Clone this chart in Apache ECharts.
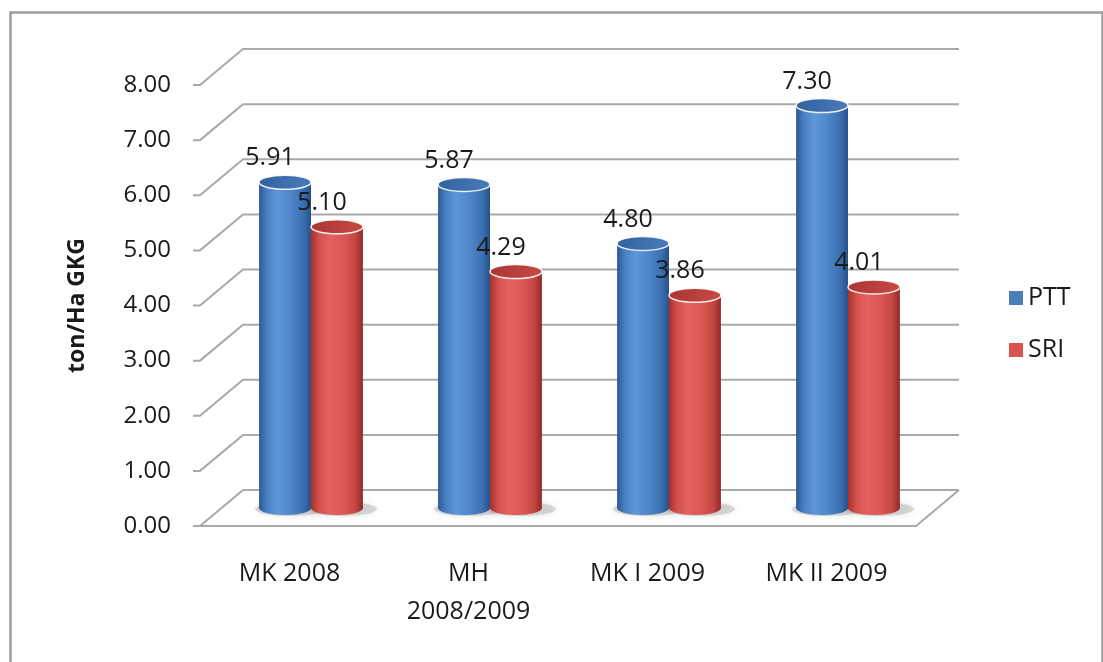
<!DOCTYPE html>
<html><head><meta charset="utf-8">
<script src="https://cdn.jsdelivr.net/npm/echarts@6/dist/echarts.min.js"></script>
<style>html,body{margin:0;padding:0;background:#fff}#c{width:1103px;height:662px}</style>
</head><body><div id="c"></div>
<script>
const categories = ['MK 2008', 'MH\n2008/2009', 'MK I 2009', 'MK II 2009'];
const pttValues = [5.91, 5.87, 4.80, 7.30];
const sriValues = [5.10, 4.29, 3.86, 4.01];
const yTicks = [0, 1, 2, 3, 4, 5, 6, 7, 8];
const seriesNames = ['PTT', 'SRI'];

const DEPTH = [43, -36];
const FONT = '"Open Sans", "Noto Sans", sans-serif';
const TEXT = '#1a1a1a';
const GRID_COLOR = '#a9a9a9';
const palettes = [
  { base: '#4a7ebb', topA: '#31609d', topB: '#4a7cbc',
    body: ['#2b5891', '#4a80c3', '#5e97d7', '#4f87ca', '#3b70b1', '#28508a'] },
  { base: '#d9534f', topA: '#a83532', topB: '#c94a46',
    body: ['#a5302d', '#d24f4b', '#e4625e', '#dc5a56', '#c64643', '#922927'] }
];

function cylinderRender(si) {
  return function (params, api) {
    const cat = api.value(0), val = api.value(1);
    const catW = api.size([1, 0])[0];
    const barW = catW * 0.29;
    const base = api.coord([cat, 0]);
    const topP = api.coord([cat, val]);
    const cx = base[0] + DEPTH[0] / 2 + (si === 0 ? -barW / 2 : barW / 2);
    const yb = base[1] + DEPTH[1] / 2;
    const yt = topP[1] + DEPTH[1] / 2;
    const rx = barW / 2, ry = 7;
    const p = palettes[si];
    const bodyFill = {
      type: 'linear', x: 0, y: 0, x2: 1, y2: 0,
      colorStops: [
        { offset: 0, color: p.body[0] }, { offset: 0.15, color: p.body[1] },
        { offset: 0.35, color: p.body[2] }, { offset: 0.6, color: p.body[3] },
        { offset: 0.85, color: p.body[4] }, { offset: 1, color: p.body[5] }
      ]
    };
    return {
      type: 'group',
      children: [
        { type: 'ellipse', shape: { cx: cx + 5, cy: yb + 1, rx: rx + 9, ry: ry },
          style: { fill: 'rgba(170,170,170,0.4)', shadowBlur: 6, shadowColor: 'rgba(130,130,130,0.5)' }, z2: 1 },
        { type: 'ellipse', shape: { cx: cx, cy: yb, rx: rx, ry: ry }, style: { fill: bodyFill }, z2: 2 },
        { type: 'rect', shape: { x: cx - rx, y: yt, width: barW, height: yb - yt }, style: { fill: bodyFill }, z2: 3 },
        { type: 'ellipse', shape: { cx: cx, cy: yt, rx: rx, ry: ry },
          style: { fill: { type: 'linear', x: 0, y: 0, x2: 1, y2: 1,
            colorStops: [{ offset: 0, color: p.topA }, { offset: 1, color: p.topB }] },
            stroke: 'rgba(255,255,255,0.9)', lineWidth: 1.5 }, z2: 4 },
        { type: 'text', z2: 50,
          style: { text: val.toFixed(2), x: cx - 15, y: yt - 24, align: 'center', verticalAlign: 'middle',
            fill: TEXT, fontSize: 25, fontFamily: FONT } }
      ]
    };
  };
}

function wallRender(params, api) {
  const v = api.value(1);
  const cs = params.coordSys;
  const L = cs.x, R = cs.x + cs.width;
  const y = api.coord([0, v])[1];
  const style = { stroke: GRID_COLOR, lineWidth: 2, fill: 'none' };
  const children = [
    { type: 'polyline', shape: { points: [[L - 7, y], [L, y], [L + DEPTH[0], y + DEPTH[1]], [R + DEPTH[0], y + DEPTH[1]]] }, style: style }
  ];
  if (v === 0) {
    children.push({ type: 'polyline', shape: { points: [[L, y], [R, y], [R + DEPTH[0], y + DEPTH[1]]] }, style: style });
  }
  return { type: 'group', children: children };
}

const chart = echarts.init(document.getElementById('c'), null, { renderer: 'canvas' });
chart.setOption({
  backgroundColor: '#ffffff',
  animation: false,
  textStyle: { fontFamily: FONT },
  graphic: [{
    type: 'rect', left: 8, top: 10, silent: true,
    shape: { width: 1092, height: 700 },
    style: { fill: 'none', stroke: '#9d9d9d', lineWidth: 2.5 }
  }],
  grid: { left: 200, right: 187, top: 85, bottom: 136 },
  legend: {
    orient: 'vertical', left: 1004, top: 280,
    itemWidth: 14, itemHeight: 14, itemGap: 26,
    icon: 'rect',
    data: seriesNames,
    textStyle: { fontSize: 25, color: TEXT, fontFamily: FONT, lineHeight: 26 }
  },
  xAxis: {
    type: 'category', data: categories,
    axisLine: { show: false }, axisTick: { show: false }, splitLine: { show: false },
    axisLabel: { fontSize: 25, color: TEXT, lineHeight: 38, margin: 29, interval: 0, fontFamily: FONT }
  },
  yAxis: {
    type: 'value', min: 0, max: 8, interval: 1,
    name: 'ton/Ha GKG', nameLocation: 'middle', nameGap: 111,
    nameTextStyle: { fontSize: 23, fontWeight: 'bold', color: TEXT, fontFamily: FONT },
    axisLine: { show: false }, axisTick: { show: false }, splitLine: { show: false },
    axisLabel: { fontSize: 24, color: TEXT, margin: 29, fontFamily: FONT, formatter: v => v.toFixed(2) }
  },
  series: [
    { type: 'custom', name: '_wall', silent: true, renderItem: wallRender,
      data: yTicks.map(v => [0, v]), encode: { x: 0, y: 1 }, z: 1 },
    { type: 'custom', name: seriesNames[0], renderItem: cylinderRender(0),
      itemStyle: { color: palettes[0].base },
      data: pttValues.map((v, i) => [i, v]), encode: { x: 0, y: 1 }, z: 2 },
    { type: 'custom', name: seriesNames[1], renderItem: cylinderRender(1),
      itemStyle: { color: palettes[1].base },
      data: sriValues.map((v, i) => [i, v]), encode: { x: 0, y: 1 }, z: 2 }
  ]
});
</script>
</body></html>
